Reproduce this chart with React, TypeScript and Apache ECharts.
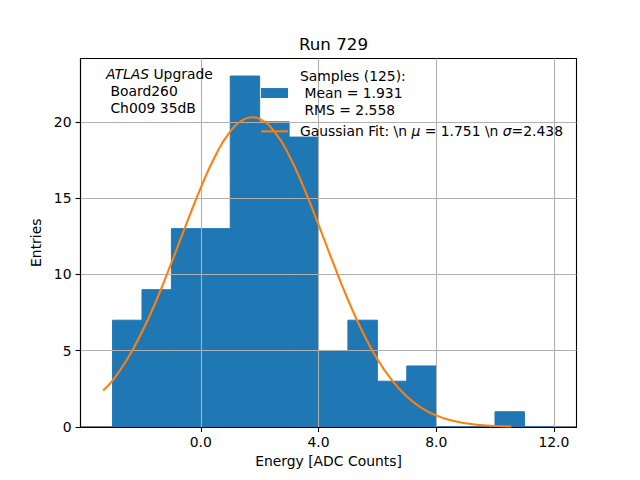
import React, { useEffect, useRef } from "react";
import * as echarts from "echarts";

// histogram bins (width 1) and counts
const binEdges = [-3, -2, -1, 0, 1, 2, 3, 4, 5, 6, 7, 8, 9, 10, 11, 12];
const counts = [7, 9, 13, 13, 23, 20, 19, 5, 7, 3, 4, 0, 0, 1, 0];

// gaussian fit curve
const fitX = [
  -3.32, -3.0, -2.5, -2.0, -1.5, -1.0, -0.5, 0.0, 0.5, 1.0, 1.5, 1.75, 2.0, 2.5,
  3.0, 3.5, 4.0, 4.5, 5.0, 5.5, 6.0, 6.5, 7.0, 7.5, 8.0, 8.5, 9.0, 9.5, 10.0,
  10.56,
];
const fitY = [
  2.4, 3.04, 4.44, 6.22, 8.34, 10.75, 13.26, 15.69, 17.8, 19.36, 20.19, 20.3,
  20.19, 19.36, 17.8, 15.69, 13.26, 10.75, 8.35, 6.22, 4.45, 3.05, 2.0, 1.26,
  0.76, 0.44, 0.24, 0.13, 0.07, 0.03,
];

const xTicks = [0, 4, 8, 12];
const yTicks = [0, 5, 10, 15, 20];

const histName = "Samples (125):\n Mean = 1.931\n RMS = 2.558";
const fitName = "Gaussian Fit: \\n μ = 1.751 \\n σ=2.438";

const FONT = "DejaVu Sans";

const App: React.FC = () => {
  const chartRef = useRef<HTMLDivElement>(null);

  useEffect(() => {
    if (!chartRef.current) return;
    const chart = echarts.init(chartRef.current, undefined, { renderer: "svg" });

    const histData = counts.map((c, i) => [binEdges[i], binEdges[i + 1], c]);
    const fitData = fitX.map((x, i) => [x, fitY[i]]);

    chart.setOption({
      animation: false,
      backgroundColor: "#fff",
      textStyle: { fontFamily: FONT },
      title: {
        text: "Run 729",
        left: 328.5,
        top: 30,
        textAlign: "center",
        textStyle: { fontFamily: FONT, fontSize: 16.7, fontWeight: "normal", color: "#000" },
      },
      grid: {
        left: 80.5,
        top: 58.5,
        right: 63.5,
        bottom: 53,
        show: true,
        borderColor: "#000",
        borderWidth: 1.1,
        backgroundColor: "transparent",
      },
      legend: [
        {
          data: [{ name: histName, icon: "rect" }],
          orient: "vertical",
          left: 261,
          top: 68,
          padding: 0,
          itemWidth: 27,
          itemHeight: 10,
          selectedMode: false,
          textStyle: {
            fontFamily: FONT,
            fontSize: 13.9,
            color: "#000",
            lineHeight: 16.7,
            padding: [0, 0, 0, 7],
          },
        },
        {
          data: [{ name: fitName, icon: "rect" }],
          orient: "vertical",
          left: 261,
          top: 123,
          padding: 0,
          itemWidth: 27,
          itemHeight: 2,
          selectedMode: false,
          formatter: (n: string) => n.replace("μ", "{i|μ}").replace("σ", "{i|σ}"),
          textStyle: {
            fontFamily: FONT,
            fontSize: 13.9,
            color: "#000",
            lineHeight: 16.7,
            padding: [0, 0, 0, 7],
            rich: {
              i: { fontFamily: FONT, fontSize: 13.9, fontStyle: "italic", color: "#000" },
            },
          },
        },
      ],
      xAxis: {
        type: "value",
        min: -4.09,
        max: 12.77,
        z: 2,
        name: "Energy [ADC Counts]",
        nameLocation: "middle",
        nameGap: 27,
        nameTextStyle: { fontFamily: FONT, fontSize: 13.9, color: "#000" },
        axisLine: { show: true, onZero: false, lineStyle: { color: "#000", width: 1.1 } },
        axisTick: {
          show: true,
          inside: false,
          length: 5,
          customValues: xTicks,
          lineStyle: { color: "#000", width: 1.1 },
        },
        axisLabel: {
          customValues: xTicks,
          margin: 8,
          fontFamily: FONT,
          fontSize: 13.9,
          color: "#000",
          formatter: (v: number) => v.toFixed(1),
        },
        splitLine: { show: true, lineStyle: { color: "#b0b0b0", width: 1.1 } },
      },
      yAxis: {
        type: "value",
        min: 0,
        max: 24.15,
        z: 2,
        name: "Entries",
        nameLocation: "middle",
        nameGap: 34,
        nameTextStyle: { fontFamily: FONT, fontSize: 13.9, color: "#000" },
        axisLine: { show: true, onZero: false, lineStyle: { color: "#000", width: 1.1 } },
        axisTick: {
          show: true,
          inside: false,
          length: 5,
          customValues: yTicks,
          lineStyle: { color: "#000", width: 1.1 },
        },
        axisLabel: {
          customValues: yTicks,
          margin: 9,
          fontFamily: FONT,
          fontSize: 13.9,
          color: "#000",
        },
        splitLine: { show: true, lineStyle: { color: "#b0b0b0", width: 1.1 } },
      },
      graphic: [
        {
          type: "text",
          left: 106,
          top: 65.5,
          z: 10,
          style: {
            text: "{i|ATLAS} Upgrade\n Board260\n Ch009 35dB",
            fontFamily: FONT,
            fontSize: 13.9,
            lineHeight: 17,
            fill: "#000",
            rich: {
              i: { fontFamily: FONT, fontSize: 13.9, fontStyle: "italic", lineHeight: 17 },
            },
          },
        },
      ],
      series: [
        {
          name: histName,
          type: "custom",
          z: 1,
          itemStyle: { color: "#1f77b4" },
          encode: { x: [0, 1], y: 2 },
          data: histData,
          renderItem: (params: any, api: any) => {
            const p0 = api.coord([api.value(0), api.value(2)]);
            const p1 = api.coord([api.value(1), 0]);
            return {
              type: "rect",
              shape: { x: p0[0], y: p0[1], width: p1[0] - p0[0], height: p1[1] - p0[1] },
              style: { fill: "#1f77b4", stroke: "#1f77b4", lineWidth: 1 },
            };
          },
        },
        {
          name: fitName,
          type: "line",
          z: 3,
          data: fitData,
          smooth: true,
          showSymbol: false,
          color: "#ff7f0e",
          lineStyle: { color: "#ff7f0e", width: 2.1 },
        },
      ],
    });

    return () => {
      chart.dispose();
    };
  }, []);

  return (
    <div
      ref={chartRef}
      style={{ position: "fixed", left: 0, top: 0, width: "640px", height: "480px" }}
    ></div>
  );
};

export default App;
